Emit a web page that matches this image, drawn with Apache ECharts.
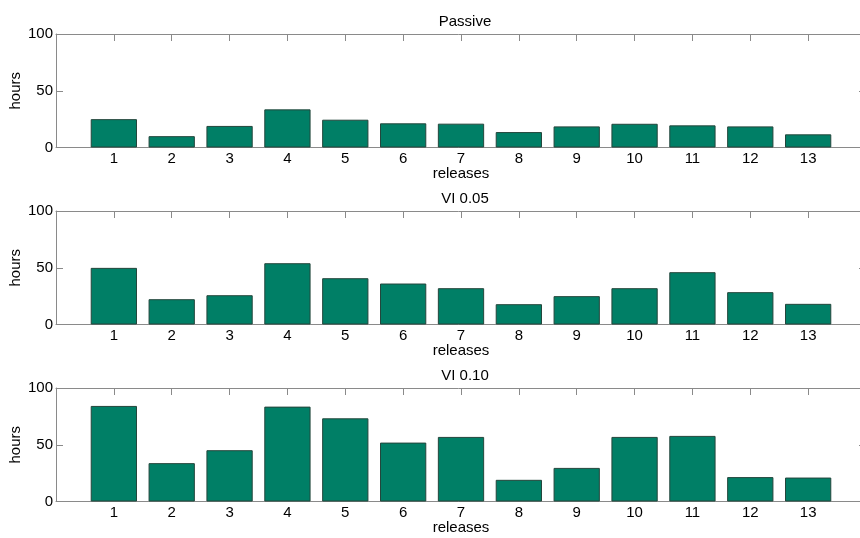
<!DOCTYPE html>
<html><head><meta charset="utf-8">
<script src="https://cdn.jsdelivr.net/npm/echarts@6/dist/echarts.min.js"></script>
<style>html,body{margin:0;padding:0;background:#fff}#c{width:860px;height:538px}</style>
</head><body><div id="c"></div>
<script>
const releases = [1,2,3,4,5,6,7,8,9,10,11,12,13];
const tickLabels = ['1','2','3','4','5','6','7','8','9','10','11','12','13'];
const titles = ['Passive','VI 0.05','VI 0.10'];
const passive = [25, 10, 19, 33.6, 24.5, 21.3, 21, 13.6, 18.6, 20.9, 19.5, 18.6, 11.6];
const vi005 = [49.9, 22.3, 25.8, 54, 40.8, 36.1, 32, 17.9, 25, 32, 46.1, 28.5, 18.2];
const vi010 = [84.2, 33.8, 45.2, 83.6, 73.3, 51.9, 56.9, 19.1, 29.6, 56.9, 57.8, 21.5, 21.1];
const yTicks = [0, 50, 100];

const seriesData = [passive, vi005, vi010];
const tops = [34, 211, 388];
const H = 113.5;
const font = 'Liberation Sans, Arial, Helvetica, sans-serif';
const axisCol = '#8a8a8a';
const FS = 15;

const grids = [], xAxes = [], yAxes = [], series = [], titleArr = [];
seriesData.forEach((vals, i) => {
  grids.push({left: 56, right: -6, top: tops[i], height: H, containLabel: false, outerBoundsMode: 'none'});
  titleArr.push({text: titles[i], left: 460, top: tops[i] - 25, textAlign: 'center',
    textStyle: {fontFamily: font, fontSize: FS, fontWeight: 'normal', color: '#000'}});
  // bottom axis
  xAxes.push({type: 'value', gridIndex: i, min: 0, max: 14, interval: 1, position: 'bottom',
    name: 'releases', nameLocation: 'middle', nameGap: 19, nameMoveOverlap: false,
    nameTextStyle: {fontFamily: font, fontSize: FS, color: '#000', verticalAlign: 'top'},
    axisLine: {show: true, onZero: false, lineStyle: {color: axisCol, width: 1}},
    axisTick: {show: true, inside: true, length: 7, lineStyle: {color: axisCol}},
    axisLabel: {fontFamily: font, fontSize: FS, color: '#000', margin: 4,
      formatter: v => { const k = releases.indexOf(v); return k >= 0 ? tickLabels[k] : ''; }},
    splitLine: {show: false}});
  // top axis (box)
  xAxes.push({type: 'value', gridIndex: i, min: 0, max: 14, interval: 1, position: 'top',
    axisLine: {show: true, onZero: false, lineStyle: {color: axisCol, width: 1}},
    axisTick: {show: true, inside: true, length: 7, lineStyle: {color: axisCol}},
    axisLabel: {show: false}, splitLine: {show: false}});
  yAxes.push({type: 'value', gridIndex: i, min: yTicks[0], max: yTicks[yTicks.length-1], interval: 50,
    position: 'left', name: 'hours', nameLocation: 'middle', nameGap: 33, nameRotate: 90,
    nameMoveOverlap: false,
    nameTextStyle: {fontFamily: font, fontSize: FS, color: '#000'},
    axisLine: {show: true, onZero: false, lineStyle: {color: axisCol, width: 1}},
    axisTick: {show: true, inside: true, length: 7, lineStyle: {color: axisCol}},
    axisLabel: {fontFamily: font, fontSize: FS, color: '#000', margin: 3},
    splitLine: {show: false}});
  yAxes.push({type: 'value', gridIndex: i, min: 0, max: 100, interval: 50, position: 'right',
    axisLine: {show: true, onZero: false, lineStyle: {color: axisCol, width: 1}},
    axisTick: {show: true, inside: true, length: 7, lineStyle: {color: axisCol}},
    axisLabel: {show: false}, splitLine: {show: false}});
  series.push({type: 'bar', xAxisIndex: i*2, yAxisIndex: i*2,
    data: releases.map((r, k) => [r, vals[k]]),
    barWidth: '80%',
    itemStyle: {color: '#007f66', borderColor: '#24463c', borderWidth: 1},
    silent: true, animation: false});
});

const chart = echarts.init(document.getElementById('c'), null, {renderer: 'canvas'});
chart.setOption({
  animation: false, backgroundColor: '#fff',
  title: titleArr, grid: grids, xAxis: xAxes, yAxis: yAxes, series: series
});
</script></body></html>
